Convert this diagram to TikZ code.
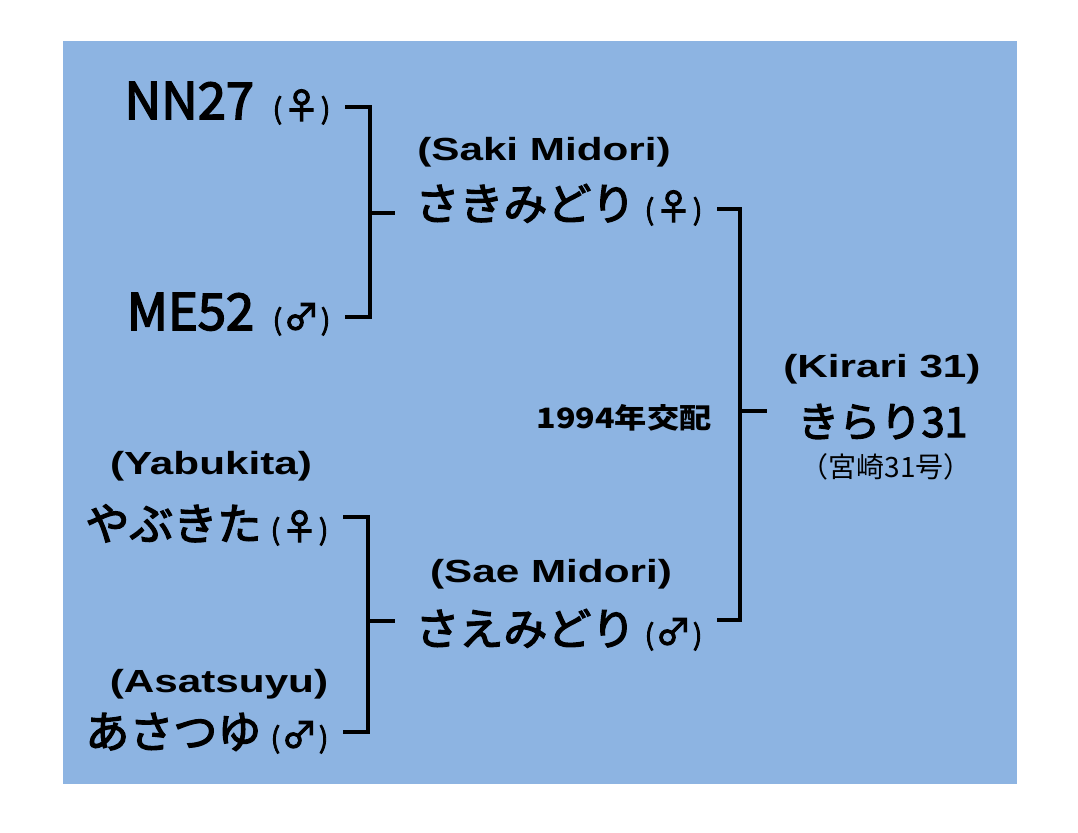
\documentclass[tikz,border=0pt]{standalone}
\usepackage{fontspec}
\newfontfamily\jpfont{Noto Sans CJK JP}
\newfontfamily\jpmid[FakeBold=3]{Noto Sans CJK JP}
\newfontfamily\jpwide[FakeStretch=1.15]{Noto Sans CJK JP}
\newfontfamily\enfont[FakeStretch=1.32]{Liberation Sans}
\definecolor{bgblue}{RGB}{141,180,226}
\newcommand\sexmark[1]{{\jpmid\fontsize{21}{21}\selectfont(\hspace{1pt}{\fontsize{27}{27}\selectfont#1}\hspace{1pt})}}
\tikzset{
  cultivar/.style={inner sep=0pt, outer sep=11pt, font=\jpmid\fontsize{33}{33}\selectfont},
  clone/.style={cultivar, font=\jpmid\fontsize{38}{38}\selectfont},
  lift/.style={text height=#1, text depth=0pt},
  roman/.style={inner sep=0pt, font=\enfont\bfseries\fontsize{24}{24}\selectfont},
  link/.style={line width=2.4pt}
}
\begin{document}
\begin{tikzpicture}[x=0.75pt, y=-0.75pt]
    \useasboundingbox (0,0) rectangle (1078,832);
    \fill[bgblue] (63,41) rectangle (1017,784);
    % parents of the first cross
    \node[clone, lift=18pt, anchor=east] (nn27) at (345,107) {NN27\hspace{14pt}\sexmark{♀}};
    \node[clone, lift=19.5pt, anchor=east] (me52) at (345,317) {ME52\hspace{14pt}\sexmark{♂}};
    \node[roman] (yabuEn) at (211,466) {(Yabukita)};
    \node[cultivar, lift=34.5pt, anchor=east] (yabu) at (343,517) {やぶきた\hspace{7pt}\sexmark{♀}};
    \node[roman] (asaEn) at (219,684) {(Asatsuyu)};
    \node[cultivar, lift=24pt, anchor=east] (asa) at (343,732) {あさつゆ\hspace{7pt}\sexmark{♂}};
    % second generation
    \node[roman] (sakiEn) at (544,152) {(Saki Midori)};
    \node[cultivar, lift=16.5pt, anchor=east] (saki) at (717,209) {さきみどり\hspace{7pt}\sexmark{♀}};
    \node[roman] (saeEn) at (551,574) {(Sae Midori)};
    \node[cultivar, lift=37.5pt, anchor=east] (sae) at (717,620) {さえみどり\hspace{7pt}\sexmark{♂}};
    \node[inner sep=0pt, font=\jpwide\bfseries\fontsize{21}{21}\selectfont] (year) at (624,418) {1994年交配};
    % offspring
    \node[roman] (kirariEn) at (882,369) {(Kirari 31)};
    \node[cultivar, lift=39pt, outer sep=23pt, anchor=west, font=\jpmid\fontsize{31}{31}\selectfont] (kirari) at (767,411) {きらり31};
    \node[inner sep=0pt, font=\jpfont\fontsize{21}{21}\selectfont] (miyazaki) at (886,467) {（宮崎31号）};
    \coordinate (j1) at (370,213); \coordinate (t1) at (395,213);
    \coordinate (j2) at (368,621); \coordinate (t2) at (395,621);
    \coordinate (j3) at (740,411);
    \draw[link] (nn27.east) -| (j1) |- (me52.east);
    \draw[link] (j1) -- (t1);
    \draw[link] (yabu.east) -| (j2) |- (asa.east);
    \draw[link] (j2) -- (t2);
    \draw[link] (saki.east) -| (j3) |- (sae.east);
    \draw[link] (j3) -- (kirari.west);
\end{tikzpicture}
\end{document}
